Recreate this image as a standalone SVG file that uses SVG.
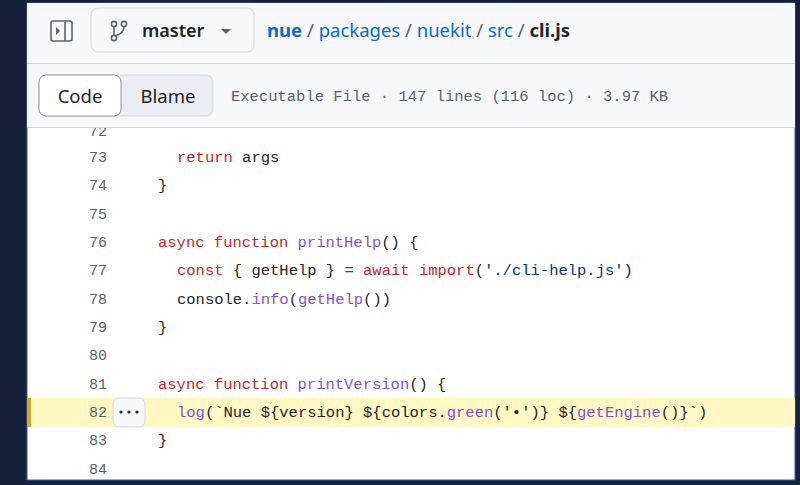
<svg xmlns="http://www.w3.org/2000/svg" width="800" height="485" viewBox="0 0 800 485">
<style>
.m{font-family:"Liberation Mono","DejaVu Sans Mono",monospace;font-size:15.5px;fill:#1f2328;white-space:pre}
.n{font-family:"Liberation Mono",monospace;font-size:15px;fill:#59636e;text-anchor:end}
.s{font-family:"Noto Sans","Liberation Sans",sans-serif}
.k{fill:#cf222e}.f{fill:#8250df}.st{fill:#0a3069}.o{fill:#0550ae}
</style>
<rect width="800" height="485" fill="#16203a"/>
<rect x="27" y="3" width="768" height="477" fill="#ffffff" stroke="#3a5a9a" stroke-width="1"/>
<g id="code">
<rect x="28" y="398" width="767" height="29" fill="#fff8c5"/>
<rect x="28" y="398" width="3" height="29" fill="#d4a72c"/>
<text x="107" y="136" class="n">72</text>
<text x="107" y="162" class="n">73</text><text x="177" y="162" class="m"><tspan class="k">return</tspan> args</text>
<text x="107" y="190" class="n">74</text><text x="158" y="190" class="m">}</text>
<text x="107" y="219" class="n">75</text>
<text x="107" y="247" class="n">76</text><text x="158" y="247" class="m"><tspan class="k">async</tspan> <tspan class="k">function</tspan> <tspan class="f">printHelp</tspan>() {</text>
<text x="107" y="275" class="n">77</text><text x="177" y="275" class="m"><tspan class="k">const</tspan> { getHelp } <tspan class="o">=</tspan> <tspan class="k">await</tspan> <tspan class="k">import</tspan>(<tspan class="st">'./cli-help.js'</tspan>)</text>
<text x="107" y="304" class="n">78</text><text x="177" y="304" class="m">console.<tspan class="f">info</tspan>(<tspan class="f">getHelp</tspan>())</text>
<text x="107" y="332" class="n">79</text><text x="158" y="332" class="m">}</text>
<text x="107" y="360" class="n">80</text>
<text x="107" y="389" class="n">81</text><text x="158" y="389" class="m"><tspan class="k">async</tspan> <tspan class="k">function</tspan> <tspan class="f">printVersion</tspan>() {</text>
<text x="107" y="417" class="n">82</text><text x="177" y="417" class="m"><tspan class="f">log</tspan>(`Nue ${version} ${colors.<tspan class="f">green</tspan>('•')} ${<tspan class="f">getEngine</tspan>()}`)</text>
<text x="107" y="445" class="n">83</text><text x="158" y="445" class="m">}</text>
<text x="107" y="474" class="n">84</text>
<g id="more-button"><rect x="113" y="398" width="32" height="29" rx="6" fill="#f6f8fa" stroke="#d1d9e0"/><g fill="#1f2328"><circle cx="121" cy="412" r="1.6"/><circle cx="129" cy="412" r="1.6"/><circle cx="137" cy="412" r="1.6"/></g></g>
</g>
<g id="header">
<rect x="27" y="3" width="768" height="124" fill="#f6f8fa"/>
<line x1="27" y1="63.5" x2="795" y2="63.5" stroke="#d1d9e0"/>
<line x1="27" y1="127.5" x2="795" y2="127.5" stroke="#d1d9e0"/>
<g id="sidebar-icon" fill="none" stroke="#59636e" stroke-width="1.6"><rect x="51" y="21" width="21" height="20" rx="2"/><line x1="65" y1="21" x2="65" y2="41"/><path d="M56 27 l4 4 l-4 4z" fill="#59636e" stroke="none"/></g>
<g id="branch">
<rect x="91" y="8" width="163" height="44" rx="7" fill="#f6f8fa" stroke="#d1d9e0"/>
<g fill="none" stroke="#59636e" stroke-width="1.6"><circle cx="114" cy="24" r="2.6"/><circle cx="114" cy="38" r="2.6"/><circle cx="124" cy="24" r="2.6"/><line x1="114" y1="27" x2="114" y2="35"/><path d="M124 27 q0 6 -9 9"/></g>
<text x="142" y="37" class="s" font-size="18" font-weight="600" fill="#1f2328">master</text>
<path d="M221 29 h10 l-5 5z" fill="#59636e"/>
</g>
<g id="breadcrumb"><text x="267" y="37" class="s" font-size="18.5" fill="#0969da"><tspan font-weight="700">nue</tspan><tspan fill="#59636e"> / </tspan>packages<tspan fill="#59636e"> / </tspan>nuekit<tspan fill="#59636e"> / </tspan>src<tspan fill="#59636e"> / </tspan><tspan font-weight="700" fill="#1f2328">cli.js</tspan></text></g>
<g id="tabs">
<rect x="39" y="75" width="174" height="41" rx="7" fill="#eaeef2" stroke="#d1d9e0"/>
<rect x="39" y="75" width="82" height="41" rx="7" fill="#ffffff" stroke="#8c959f"/>
<text x="80" y="103" class="s" font-size="18.5" text-anchor="middle" fill="#1f2328">Code</text>
<text x="168" y="103" class="s" font-size="18.5" text-anchor="middle" fill="#1f2328">Blame</text>
</g>
<text x="231" y="101" class="m" style="fill:#59636e">Executable File · 147 lines (116 loc) · 3.97 KB</text>
</g>
</svg>
